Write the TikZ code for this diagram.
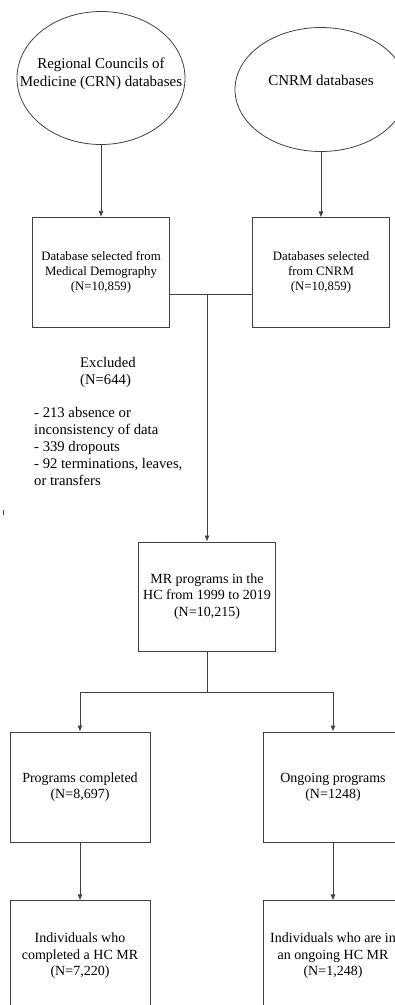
\documentclass[tikz,border=0pt]{standalone}
\usepackage{fontspec}
\setmainfont{Liberation Serif}
\usepackage{tikz}
\usetikzlibrary{arrows.meta,positioning,shapes.geometric,calc}

\begin{document}
\begin{tikzpicture}[
  x=1pt, y=1pt,
  source/.style={draw=black!75, line width=0.8pt, ellipse, inner xsep=-40pt, inner ysep=0pt, align=center, font=\fontsize{15}{18}\selectfont},
  dbbox/.style={draw=black!75, line width=0.8pt, rectangle, align=center, minimum width=137pt, minimum height=110pt, font=\fontsize{12.8}{15}\selectfont},
  stagebox/.style={draw=black!75, line width=0.8pt, rectangle, align=center, minimum width=137pt, minimum height=109pt, font=\fontsize{14}{16.3}\selectfont},
  resultbox/.style={draw=black!75, line width=0.8pt, rectangle, align=center, minimum width=140pt, minimum height=110pt, font=\fontsize{14}{16.3}\selectfont},
  note/.style={inner sep=0pt, align=left, font=\fontsize{14.7}{17}\selectfont},
  link/.style={draw=black!75, line width=0.8pt},
  arrow/.style={-{Latex[length=6pt,width=5pt]}, draw=black!75, line width=0.8pt}
]
\useasboundingbox (0,0) rectangle (395,-1005);

% sources
\node[source, minimum width=168pt, minimum height=133pt, text depth=12pt] (crn) at (101,-78) {Regional Councils of\\Medicine (CRN) databases};
\node[source, minimum width=172pt, minimum height=124pt, text depth=19pt] (cnrm) at (321,-89.5) {CNRM databases};

% selected databases
\node[dbbox, below=72pt of crn] (demog) {Database selected from\\Medical Demography\\(N=10,859)};
\node[dbbox, below=65.5pt of cnrm] (cnrmsel) {Databases selected\\from CNRM\\(N=10,859)};

% exclusions
\node[note, anchor=north west] (excl) at (34,-357) {\hspace*{46pt}Excluded\\\hspace*{46pt}(N=644)\\[16.5pt]- 213 absence or\\inconsistency of data\\- 339 dropouts\\- 92 terminations, leaves,\\or transfers};

% programs
\node[stagebox] (mr) at (207,-596.5) {MR programs in the\\HC from 1999 to 2019\\(N=10,215)};
\node[resultbox] (done) at (80,-787) {Programs completed\\(N=8,697)};
\node[resultbox] (ongo) at (333,-787) {Ongoing programs\\(N=1248)};
\node[resultbox, below=58pt of done] (indone) {Individuals who\\completed a HC MR\\(N=7,220)};
\node[resultbox, below=58pt of ongo] (indongo) {Individuals who are in\\an ongoing HC MR\\(N=1,248)};

\coordinate (fork) at (207,-294);
\coordinate (split) at (207,-692);

\draw[arrow] (crn) -- (demog);
\draw[arrow] (cnrm) -- (cnrmsel);
\draw[link] (demog.east |- fork) -- (cnrmsel.west |- fork);
\draw[arrow] (fork) -- (mr);
\draw[link] (mr) -- (split);
\draw[link] (done.north |- split) -- (ongo.north |- split);
\draw[arrow] (done.north |- split) -- (done);
\draw[arrow] (ongo.north |- split) -- (ongo);
\draw[arrow] (done) -- (indone);
\draw[arrow] (ongo) -- (indongo);

% stray tick
\draw[link, line width=0.6pt] (3,-509.5) -- (3,-514.5);
\end{tikzpicture}
\end{document}
